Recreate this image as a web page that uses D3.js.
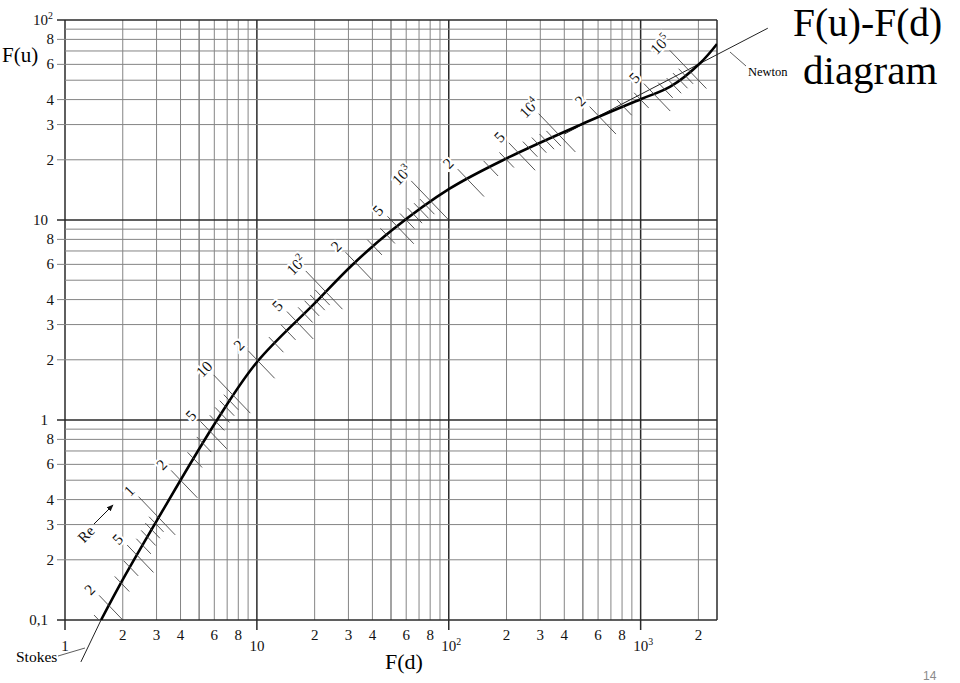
<!DOCTYPE html>
<html><head><meta charset="utf-8">
<script src="https://cdn.jsdelivr.net/npm/d3@7"></script>
<style>body{margin:0;background:#fff;} svg{display:block;}</style>
</head><body>
<svg id="c" width="960" height="683"></svg>
<script>
// ---- data ----
const curveFd = [1.541, 1.983, 3.02, 6.2, 10.02, 20.1, 31.4, 50.7, 100.5, 201.6, 484, 1007, 1427, 2046, 2500];
const curveFu = [0.1, 0.157, 0.316, 1.0, 1.95, 3.85, 5.96, 8.91, 14.3, 20.4, 29.9, 40.3, 46.4, 61.0, 75.9];
const stokesFd = [1.21, 1.541];
const stokesFu = [0.0617, 0.1];
const newtonFd = [400, 4600];
const newtonFu = [26.9, 91];
const reTickValues = [0.15,0.2,0.3,0.4,0.5,0.6,0.7,0.8,0.9,1,2,3,4,5,6,7,8,9,10,20,30,40,50,60,70,80,90,100,200,300,400,500,600,700,800,900,1000,2000,3000,4000,5000,6000,7000,8000,9000,10000,20000,30000,40000,50000,60000,70000,80000,90000,100000];
const reLabelValues = [0.2,0.5,1,2,5,10,20,50,100,200,500,1000,2000,5000,10000,20000,50000,100000];
const reLabelTexts = ["2","5","1","2","5","10","2","5","10^2","2","5","10^3","2","5","10^4","2","5","10^5"];
const xTickValues = [1,2,3,4,6,8,10,20,30,40,60,80,100,200,300,400,600,800,1000,2000];
const xTickLabels = ["1","2","3","4","6","8","10","2","3","4","6","8","10^2","2","3","4","6","8","10^3","2"];
const yTickValues = [0.1,0.2,0.3,0.4,0.6,0.8,1,2,3,4,6,8,10,20,30,40,60,80,100];
const yTickLabels = ["0,1","2","3","4","6","8","1","2","3","4","6","8","10","2","3","4","6","8","10^2"];

// ---- layout ----
const svg = d3.select("#c");
const L = 65, R = 717, T = 20, B = 620;
const x = d3.scaleLog().domain([1, 2500]).range([L, R]);
const y = d3.scaleLog().domain([0.1, 100]).range([B, T]);
const serif = "'Liberation Serif','Times New Roman',serif";
const isDecade = v => Math.abs(Math.log10(v) - Math.round(Math.log10(v))) < 1e-9;
const isFive = v => Math.abs(v / Math.pow(10, Math.floor(Math.log10(v) + 1e-9)) - 5) < 1e-9;

svg.append("defs").append("clipPath").attr("id","plot")
  .append("rect").attr("x",L).attr("y",T).attr("width",R-L).attr("height",B-T);
const mk = svg.select("defs").append("marker").attr("id","arr").attr("viewBox","0 0 10 10")
  .attr("refX",9).attr("refY",5).attr("markerWidth",7).attr("markerHeight",7).attr("orient","auto");
mk.append("path").attr("d","M0,1 L10,5 L0,9 Z").attr("fill","#111");

// grid lines
const xGrid = [], yGrid = [];
for (let n = 0; n <= 3; n++) for (let k = 1; k <= 9; k++) { const v = k * Math.pow(10, n); if (v <= 2500) xGrid.push(v); }
for (let n = -1; n <= 1; n++) for (let k = 1; k <= 9; k++) yGrid.push(+(k * Math.pow(10, n)).toPrecision(6));
yGrid.push(100);
const minor = {c:"#858585", w:1};
const major = {c:"#2a2a2a", w:1.5};

const g = svg.append("g");
xGrid.forEach(v => {
  const s = isDecade(v) ? major : isFive(v) ? {c:"#666", w:1.2} : minor;
  g.append("line").attr("x1",x(v)).attr("x2",x(v)).attr("y1",T).attr("y2", isDecade(v) ? B+10 : B)
    .attr("stroke",s.c).attr("stroke-width",s.w);
});
yGrid.forEach(v => {
  const s = isDecade(v) ? major : minor;
  const labeled = yTickValues.some(t => Math.abs(t - v) < 1e-9);
  g.append("line").attr("y1",y(v)).attr("y2",y(v)).attr("x1", labeled ? L-8 : L).attr("x2",R)
    .attr("stroke",s.c).attr("stroke-width",s.w);
});
g.append("line").attr("x1",R).attr("x2",R).attr("y1",T).attr("y2",B).attr("stroke","#2a2a2a").attr("stroke-width",1.5);

// label helper with superscript
function putText(sel, txt, size) {
  const parts = txt.split("^");
  sel.append("tspan").text(parts[0]);
  if (parts[1]) sel.append("tspan").attr("font-size", size*0.66).attr("dy", -size*0.4).text(parts[1]);
}

// x tick labels
xTickValues.forEach((v, i) => {
  const lab = xTickLabels[i];
  const dec = isDecade(v);
  const t = svg.append("text").attr("font-family",serif).attr("font-size",15).attr("fill","#111")
    .attr("y", dec ? 651 : 640);
  if (lab.includes("^")) t.attr("x", x(v) - 7.5).attr("text-anchor","start");
  else t.attr("x", x(v)).attr("text-anchor","middle");
  putText(t, lab, 15);
});
// y tick labels
yTickValues.forEach((v, i) => {
  const lab = yTickLabels[i];
  const dec = isDecade(v);
  const t = svg.append("text").attr("font-family",serif).attr("font-size",15).attr("fill","#111")
    .attr("y", y(v) + 5);
  if (lab.includes("^")) t.attr("x", 33).attr("text-anchor","start");
  else t.attr("x", dec ? 48 : 54).attr("text-anchor","end");
  putText(t, lab, 15);
});

// axis titles
svg.append("text").attr("x",2).attr("y",62).attr("font-family",serif).attr("font-size",21).text("F(u)");
svg.append("text").attr("x",385).attr("y",669).attr("font-family",serif).attr("font-size",22).text("F(d)");
svg.append("text").attr("x",793).attr("y",36).attr("font-family",serif).attr("font-size",39.5).text("F(u)-F(d)");
svg.append("text").attr("x",803).attr("y",84).attr("font-family",serif).attr("font-size",41).text("diagram");
svg.append("text").attr("x",923).attr("y",680).attr("font-family","'Liberation Sans',Arial,sans-serif")
  .attr("font-size",12).attr("fill","#8a8a8a").text("14");

// reference lines
const line = d3.line().x(d => x(d[0])).y(d => y(d[1]));
svg.append("path").attr("d", line(stokesFd.map((d,i)=>[d, stokesFu[i]])))
  .attr("fill","none").attr("stroke","#222").attr("stroke-width",1);
svg.append("path").attr("d", line(newtonFd.map((d,i)=>[d, newtonFu[i]])))
  .attr("fill","none").attr("stroke","#222").attr("stroke-width",1);

// main curve
const pts = curveFd.map((d,i)=>[d, curveFu[i]]);
svg.append("path").attr("clip-path","url(#plot)")
  .attr("d", d3.line().x(d=>x(d[0])).y(d=>y(d[1])).curve(d3.curveCatmullRom.alpha(0.5))(pts))
  .attr("fill","none").attr("stroke","#000").attr("stroke-width",2.6);

// Re ticks: intersection of Re = F(d)*F(u) with curve (log-linear along data)
const allPts = [[stokesFd[0], stokesFu[0]]].concat(pts);
function reAt(r) {
  const lr = Math.log10(r);
  for (let i = 0; i < allPts.length - 1; i++) {
    const a = Math.log10(allPts[i][0]*allPts[i][1]), b = Math.log10(allPts[i+1][0]*allPts[i+1][1]);
    if (lr >= a && lr <= b) {
      const t = (lr - a) / (b - a);
      const ld = Math.log10(allPts[i][0]) + t*(Math.log10(allPts[i+1][0]) - Math.log10(allPts[i][0]));
      const lu = Math.log10(allPts[i][1]) + t*(Math.log10(allPts[i+1][1]) - Math.log10(allPts[i][1]));
      return [x(Math.pow(10, ld)), y(Math.pow(10, lu))];
    }
  }
  return null;
}
// direction of a constant-Re line in pixels
const dx0 = x(10) - x(1), dy0 = y(0.1) - y(1);
const dl = Math.hypot(dx0, dy0);
const ux = dx0/dl, uy = dy0/dl;
const tg = svg.append("g").attr("clip-path","url(#plot)");
const lblDist = r => isDecade(r) ? 40 : 25;
reTickValues.forEach(r => {
  const p = reAt(r);
  if (!p) return;
  const labeled = reLabelValues.some(v => Math.abs(v - r) / r < 1e-9);
  const a = labeled ? -(lblDist(r) - 11) : -9;
  const b = labeled ? 24 : 12;
  tg.append("line").attr("x1", p[0]+a*ux).attr("y1", p[1]+a*uy).attr("x2", p[0]+b*ux).attr("y2", p[1]+b*uy)
    .attr("stroke","#444").attr("stroke-width",0.9);
});
reLabelValues.forEach((r, i) => {
  const p = reAt(r);
  if (!p) return;
  const dd = lblDist(r);
  const cx = p[0] - dd*ux - 2, cy = p[1] - dd*uy + 2;
  const t = svg.append("text").attr("transform", `translate(${cx},${cy}) rotate(-46)`)
    .attr("text-anchor","middle").attr("dy","0.35em").attr("font-family",serif).attr("font-size",15.5)
    .attr("fill","#111").attr("stroke","#fff").attr("stroke-width",4).attr("paint-order","stroke");
  putText(t, reLabelTexts[i], 15.5);
});

// Re arrow annotation
svg.append("line").attr("x1",94).attr("y1",524).attr("x2",113).attr("y2",505)
  .attr("stroke","#111").attr("stroke-width",1).attr("marker-end","url(#arr)");
svg.append("text").attr("transform","translate(86,534) rotate(-46)").attr("text-anchor","middle")
  .attr("dy","0.35em").attr("font-family",serif).attr("font-size",15)
  .attr("stroke","#fff").attr("stroke-width",4).attr("paint-order","stroke").attr("fill","#111").text("Re");

// Stokes / Newton labels
svg.append("line").attr("x1",58).attr("y1",656).attr("x2",85).attr("y2",648).attr("stroke","#333").attr("stroke-width",0.8);
svg.append("text").attr("x",16).attr("y",662).attr("font-family",serif).attr("font-size",15.5).text("Stokes");
svg.append("line").attr("x1",730).attr("y1",52).attr("x2",746).attr("y2",66).attr("stroke","#333").attr("stroke-width",0.8);
svg.append("text").attr("x",748).attr("y",76).attr("font-family",serif).attr("font-size",12.5).text("Newton");
</script>
</body></html>
